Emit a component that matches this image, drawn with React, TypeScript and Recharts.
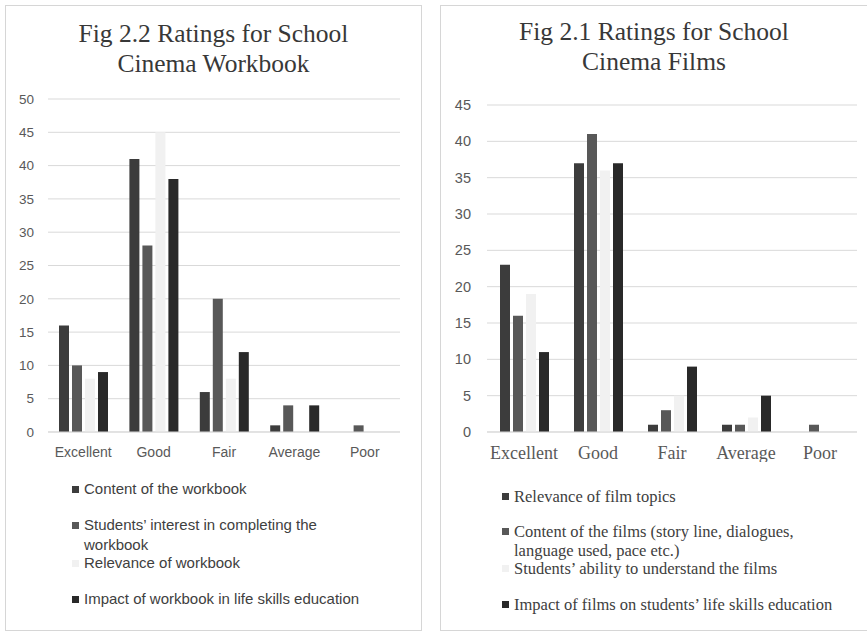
import React from 'react';
import { BarChart, Bar, XAxis, YAxis, CartesianGrid } from 'recharts';

// Rating categories shared by both figures
const categories = ['Excellent', 'Good', 'Fair', 'Average', 'Poor'];

// Fig 2.2 – School Cinema Workbook
const workbookContent = [16, 41, 6, 1, 0];
const workbookInterest = [10, 28, 20, 4, 1];
const workbookRelevance = [8, 45, 8, 0, 0];
const workbookImpact = [9, 38, 12, 4, 0];
const workbookTicks = [0, 5, 10, 15, 20, 25, 30, 35, 40, 45, 50];
const workbookNames = [
  'Content of the workbook',
  'Students\u2019 interest in completing the\nworkbook',
  'Relevance of workbook',
  'Impact of workbook in life skills education',
];

// Fig 2.1 – School Cinema Films
const filmRelevance = [23, 37, 1, 1, 0];
const filmContent = [16, 41, 3, 1, 1];
const filmAbility = [19, 36, 5, 2, 0];
const filmImpact = [11, 37, 9, 5, 0];
const filmTicks = [0, 5, 10, 15, 20, 25, 30, 35, 40, 45];
const filmNames = [
  'Relevance of film topics',
  'Content of the films (story line, dialogues,\nlanguage used, pace etc.)',
  'Students\u2019 ability to understand the films',
  'Impact of films on students\u2019 life skills education',
];

const colors = ['#3c3c3c', '#585858', '#f1f1f1', '#292929'];

const buildRows = (series: number[][]) =>
  categories.map((c, i) => ({
    name: c,
    s0: series[0][i],
    s1: series[1][i],
    s2: series[2][i],
    s3: series[3][i],
  }));

const workbookData = buildRows([workbookContent, workbookInterest, workbookRelevance, workbookImpact]);
const filmData = buildRows([filmRelevance, filmContent, filmAbility, filmImpact]);

const serif = '"Liberation Serif", "Times New Roman", serif';
const sans = '"Liberation Sans", Arial, sans-serif';

type LegendProps = {
  names: string[];
  tops: number[];
  left: number;
  font: string;
  size: number;
  lineHeight: number;
};

const PanelLegend = ({ names, tops, left, font, size, lineHeight }: LegendProps) => (
  <>
    {names.map((n, i) => (
      <div
        key={n}
        style={{
          position: 'absolute',
          left,
          top: tops[i],
          display: 'flex',
          alignItems: 'flex-start',
          fontFamily: font,
          fontSize: size,
          color: '#404040',
          lineHeight: `${lineHeight}px`,
          whiteSpace: 'pre',
        }}
      >
        <span
          style={{
            display: 'inline-block',
            flex: 'none',
            width: 7,
            height: 7,
            background: colors[i],
            marginTop: Math.round((lineHeight - 7) / 2),
            marginRight: 5,
          }}
        />
        <span>{n}</span>
      </div>
    ))}
  </>
);

const titleStyle = {
  position: 'absolute' as const,
  textAlign: 'center' as const,
  fontFamily: serif,
  fontSize: 25.5,
  lineHeight: '30px',
  color: '#383838',
};

export default function App() {
  return (
    <div
      style={{
        position: 'absolute',
        left: 0,
        top: 0,
        width: 867,
        height: 631,
        background: '#ffffff',
        overflow: 'hidden',
      }}
    >
      {/* Left panel: workbook ratings */}
      <div
        style={{
          position: 'absolute',
          left: 5,
          top: 5,
          width: 415,
          height: 624,
          border: '1px solid #d6d6d6',
        }}
      />
      <div style={{ ...titleStyle, left: 5, top: 19, width: 417 }}>
        Fig 2.2 Ratings for School
        <br />
        Cinema Workbook
      </div>
      <div style={{ position: 'absolute', left: 0, top: 0 }}>
        <BarChart
          width={421}
          height={462}
          data={workbookData}
          margin={{ top: 99, right: 21, left: 0, bottom: 0 }}
          barSize={10}
          barGap={3}
        >
          <CartesianGrid vertical={false} stroke="#d9d9d9" />
          <XAxis
            dataKey="name"
            axisLine={{ stroke: '#d9d9d9' }}
            tickLine={false}
            tickMargin={9}
            height={30}
            tick={{ fontFamily: sans, fontSize: 14, fill: '#595959' }}
            interval={0}
          />
          <YAxis
            type="number"
            domain={[0, 50]}
            ticks={workbookTicks}
            axisLine={false}
            tickLine={false}
            width={48}
            tickMargin={8}
            tick={{ fontFamily: sans, fontSize: 13.5, fill: '#595959' }}
          />
          {workbookNames.map((n, i) => (
            <Bar key={n} dataKey={`s${i}`} name={n} fill={colors[i]} isAnimationActive={false} />
          ))}
        </BarChart>
      </div>
      <PanelLegend
        names={workbookNames}
        tops={[479, 515, 553, 589]}
        left={72}
        font={sans}
        size={15}
        lineHeight={20}
      />

      {/* Right panel: film ratings */}
      <div
        style={{
          position: 'absolute',
          left: 440,
          top: 5,
          width: 426,
          height: 624,
          border: '1px solid #d6d6d6',
        }}
      />
      <div style={{ ...titleStyle, left: 440, top: 17, width: 428 }}>
        Fig 2.1 Ratings for School
        <br />
        Cinema Films
      </div>
      <div style={{ position: 'absolute', left: 440, top: 0 }}>
        <BarChart
          width={427}
          height={462}
          data={filmData}
          margin={{ top: 105, right: 10, left: 0, bottom: 0 }}
          barSize={10}
          barGap={3}
        >
          <CartesianGrid vertical={false} stroke="#d9d9d9" />
          <XAxis
            dataKey="name"
            axisLine={{ stroke: '#d9d9d9' }}
            tickLine={false}
            tickMargin={8}
            height={30}
            tick={{ fontFamily: serif, fontSize: 18, fill: '#595959' }}
            interval={0}
          />
          <YAxis
            type="number"
            domain={[0, 45]}
            ticks={filmTicks}
            axisLine={false}
            tickLine={false}
            width={47}
            tickMargin={10}
            tick={{ fontFamily: sans, fontSize: 14.5, fill: '#595959' }}
          />
          {filmNames.map((n, i) => (
            <Bar key={n} dataKey={`s${i}`} name={n} fill={colors[i]} isAnimationActive={false} />
          ))}
        </BarChart>
      </div>
      <PanelLegend
        names={filmNames}
        tops={[487, 522, 559, 595]}
        left={502}
        font={serif}
        size={16.5}
        lineHeight={19}
      />
    </div>
  );
}
